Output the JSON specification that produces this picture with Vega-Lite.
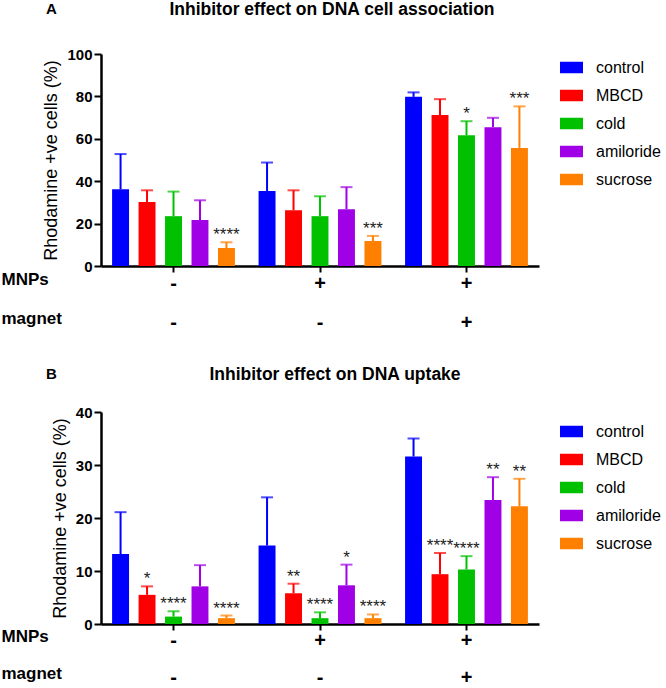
{
  "$schema": "https://vega.github.io/schema/vega-lite/v6.json",
  "description": "Inhibitor effect on DNA cell association and uptake, two grouped bar panels.",
  "background": "white",
  "padding": {"left": 1, "top": 0, "right": 0, "bottom": 0},
  "datasets": {
    "assoc": [
      {"cond": "-|-", "treatment": "control", "value": 36.2, "upper": 52.8, "sig": ""},
      {"cond": "-|-", "treatment": "MBCD", "value": 30.2, "upper": 35.7, "sig": ""},
      {"cond": "-|-", "treatment": "cold", "value": 23.5, "upper": 35.1, "sig": ""},
      {"cond": "-|-", "treatment": "amiloride", "value": 21.7, "upper": 31.0, "sig": ""},
      {"cond": "-|-", "treatment": "sucrose", "value": 8.5, "upper": 11.2, "sig": "****"},
      {"cond": "+|-", "treatment": "control", "value": 35.4, "upper": 48.8, "sig": ""},
      {"cond": "+|-", "treatment": "MBCD", "value": 26.3, "upper": 35.7, "sig": ""},
      {"cond": "+|-", "treatment": "cold", "value": 23.5, "upper": 32.9, "sig": ""},
      {"cond": "+|-", "treatment": "amiloride", "value": 26.8, "upper": 37.2, "sig": ""},
      {"cond": "+|-", "treatment": "sucrose", "value": 11.8, "upper": 14.2, "sig": "***"},
      {"cond": "+|+", "treatment": "control", "value": 79.8, "upper": 81.9, "sig": ""},
      {"cond": "+|+", "treatment": "MBCD", "value": 71.2, "upper": 78.7, "sig": ""},
      {"cond": "+|+", "treatment": "cold", "value": 61.7, "upper": 68.3, "sig": "*"},
      {"cond": "+|+", "treatment": "amiloride", "value": 65.5, "upper": 69.9, "sig": ""},
      {"cond": "+|+", "treatment": "sucrose", "value": 55.7, "upper": 75.3, "sig": "***"}
    ],
    "uptake": [
      {"cond": "-|-", "treatment": "control", "value": 13.2, "upper": 21.1, "sig": ""},
      {"cond": "-|-", "treatment": "MBCD", "value": 5.5, "upper": 7.1, "sig": "*"},
      {"cond": "-|-", "treatment": "cold", "value": 1.4, "upper": 2.4, "sig": "****"},
      {"cond": "-|-", "treatment": "amiloride", "value": 7.1, "upper": 11.1, "sig": ""},
      {"cond": "-|-", "treatment": "sucrose", "value": 1.1, "upper": 1.6, "sig": "****"},
      {"cond": "+|-", "treatment": "control", "value": 14.8, "upper": 23.9, "sig": ""},
      {"cond": "+|-", "treatment": "MBCD", "value": 5.8, "upper": 7.6, "sig": "**"},
      {"cond": "+|-", "treatment": "cold", "value": 1.1, "upper": 2.2, "sig": "****"},
      {"cond": "+|-", "treatment": "amiloride", "value": 7.3, "upper": 11.2, "sig": "*"},
      {"cond": "+|-", "treatment": "sucrose", "value": 1.1, "upper": 1.8, "sig": "****"},
      {"cond": "+|+", "treatment": "control", "value": 31.6, "upper": 35.0, "sig": ""},
      {"cond": "+|+", "treatment": "MBCD", "value": 9.4, "upper": 13.4, "sig": "****"},
      {"cond": "+|+", "treatment": "cold", "value": 10.3, "upper": 12.8, "sig": "****"},
      {"cond": "+|+", "treatment": "amiloride", "value": 23.4, "upper": 27.7, "sig": "**"},
      {"cond": "+|+", "treatment": "sucrose", "value": 22.2, "upper": 27.4, "sig": "**"}
    ]
  },
  "spacing": 32,
  "resolve": {"scale": {"color": "independent", "x": "independent", "y": "independent", "xOffset": "independent"}},
  "vconcat": [
    {
      "title": {"text": "A", "anchor": "start", "frame": "bounds", "offset": -28, "dx": 45, "fontSize": 15, "baseline": "alphabetic"},
      "resolve": {"scale": {"color": "independent", "x": "independent", "y": "independent", "xOffset": "independent"}},
      "vconcat": [
        {
          "width": 438,
          "height": 212,
          "title": {"text": "Inhibitor effect on DNA cell association", "anchor": "middle", "frame": "group", "dx": 12, "offset": 15, "baseline": "alphabetic"},
          "data": {"name": "assoc"},
          "encoding": {
            "x": {
              "field": "cond", "type": "nominal", "sort": ["-|-", "+|-", "+|+"],
              "scale": {"paddingInner": 0.1, "paddingOuter": 0.045},
              "axis": {"title": ["MNPs", "magnet"]}
            },
            "xOffset": {
              "field": "treatment", "type": "nominal",
              "sort": ["control", "MBCD", "cold", "amiloride", "sucrose"],
              "scale": {"paddingInner": 0.36, "paddingOuter": 0.17}
            },
            "color": {
              "field": "treatment", "type": "nominal",
              "scale": {"domain": ["control", "MBCD", "cold", "amiloride", "sucrose"], "range": ["#0000ff", "#ff0000", "#00c000", "#a000e6", "#ff8000"]},
              "legend": {"title": null, "offset": 19, "padding": 2}
            }
          },
          "layer": [
            {
              "mark": {"type": "bar"},
              "encoding": {
                "y": {
                  "field": "value", "type": "quantitative",
                  "scale": {"domain": [0, 100], "nice": false},
                  "axis": {"values": [0, 20, 40, 60, 80, 100], "title": "Rhodamine +ve cells (%)"}
                }
              }
            },
            {
              "mark": {"type": "rule", "strokeWidth": 2},
              "encoding": {"y": {"field": "value", "type": "quantitative"}, "y2": {"field": "upper"}}
            },
            {
              "mark": {"type": "tick", "thickness": 2, "size": 12},
              "encoding": {"y": {"field": "upper", "type": "quantitative"}}
            },
            {
              "mark": {"type": "text", "dy": -2, "baseline": "alphabetic", "fontSize": 17},
              "encoding": {
                "y": {"field": "upper", "type": "quantitative"},
                "text": {"field": "sig"},
                "color": {"value": "#222222"}
              }
            }
          ]
        }
      ]
    },
    {
      "title": {"text": "B", "anchor": "start", "frame": "bounds", "offset": -28, "dx": 45, "fontSize": 15, "baseline": "alphabetic"},
      "resolve": {"scale": {"color": "independent", "x": "independent", "y": "independent", "xOffset": "independent"}},
      "vconcat": [
        {
          "width": 438,
          "height": 212,
          "title": {"text": "Inhibitor effect on DNA uptake", "anchor": "middle", "frame": "group", "dx": 15, "offset": 8, "baseline": "alphabetic"},
          "data": {"name": "uptake"},
          "encoding": {
            "x": {
              "field": "cond", "type": "nominal", "sort": ["-|-", "+|-", "+|+"],
              "scale": {"paddingInner": 0.1, "paddingOuter": 0.045},
              "axis": {"title": ["MNPs", "magnet"], "labelLineHeight": 37.5, "titleLineHeight": 37.5, "labelPadding": 16, "titleY": 17}
            },
            "xOffset": {
              "field": "treatment", "type": "nominal",
              "sort": ["control", "MBCD", "cold", "amiloride", "sucrose"],
              "scale": {"paddingInner": 0.36, "paddingOuter": 0.17}
            },
            "color": {
              "field": "treatment", "type": "nominal",
              "scale": {"domain": ["control", "MBCD", "cold", "amiloride", "sucrose"], "range": ["#0000ff", "#ff0000", "#00c000", "#a000e6", "#ff8000"]},
              "legend": {"title": null, "offset": 13, "padding": 8}
            }
          },
          "layer": [
            {
              "mark": {"type": "bar"},
              "encoding": {
                "y": {
                  "field": "value", "type": "quantitative",
                  "scale": {"domain": [0, 40], "nice": false},
                  "axis": {"values": [0, 10, 20, 30, 40], "title": "Rhodamine +ve cells (%)"}
                }
              }
            },
            {
              "mark": {"type": "rule", "strokeWidth": 2},
              "encoding": {"y": {"field": "value", "type": "quantitative"}, "y2": {"field": "upper"}}
            },
            {
              "mark": {"type": "tick", "thickness": 2, "size": 12},
              "encoding": {"y": {"field": "upper", "type": "quantitative"}}
            },
            {
              "mark": {"type": "text", "dy": -2, "baseline": "alphabetic", "fontSize": 17},
              "encoding": {
                "y": {"field": "upper", "type": "quantitative"},
                "text": {"field": "sig"},
                "color": {"value": "#222222"}
              }
            }
          ]
        }
      ]
    }
  ],
  "config": {
    "font": "Liberation Sans",
    "view": {"stroke": null},
    "title": {"fontSize": 17.5, "fontWeight": "bold", "color": "black", "font": "Liberation Sans"},
    "axis": {
      "grid": false,
      "domainColor": "black",
      "domainWidth": 2.5,
      "tickColor": "black",
      "tickWidth": 2,
      "labelColor": "black",
      "titleColor": "black",
      "labelFontWeight": "bold"
    },
    "axisX": {
      "labelExpr": "split(datum.label, '|')",
      "labelAngle": 0,
      "labelFontSize": 20,
      "labelLineHeight": 39.5,
      "labelBaseline": "alphabetic",
      "labelPadding": 17,
      "tickSize": 6,
      "titleAngle": 0,
      "titleAlign": "left",
      "titleBaseline": "alphabetic",
      "titleX": -100,
      "titleY": 18,
      "titleFontSize": 17,
      "titleFontWeight": "bold",
      "titleLineHeight": 39.5
    },
    "axisY": {
      "labelFontSize": 15,
      "labelPadding": 2,
      "tickSize": 7,
      "titleFontSize": 18,
      "titleFontWeight": "normal",
      "titlePadding": 6
    },
    "legend": {
      "symbolType": "M-1,-0.5H1V0.5H-1Z",
      "symbolSize": 529,
      "symbolStrokeWidth": 0,
      "symbolOpacity": 1,
      "labelFontSize": 16,
      "labelColor": "black",
      "labelOffset": 13,
      "rowPadding": 8
    }
  }
}
